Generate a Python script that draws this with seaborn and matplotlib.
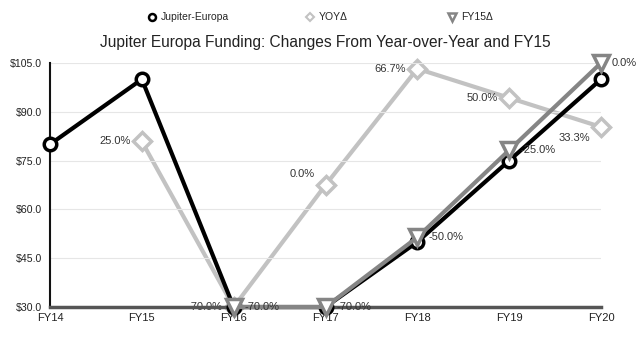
import matplotlib
matplotlib.use("Agg")
import matplotlib.pyplot as plt
from matplotlib.lines import Line2D
import seaborn as sns
import pandas as pd
import numpy as np

years = ["FY14", "FY15", "FY16", "FY17", "FY18", "FY19", "FY20"]
funding = [80, 100, 30, 30, 50, 75, 100]
yoy_pct = [np.nan, 25.0, -70.0, 0.0, 66.7, 50.0, 33.3]
fy15_pct = [np.nan, np.nan, -70.0, -70.0, -50.0, -25.0, 0.0]
y_ticks = [30, 45, 60, 75, 90, 105]
legend_labels = ["Jupiter-Europa", "YOY\u0394", "FY15\u0394"]

sns.set_theme(style="white")
plt.rcParams['font.family'] = ['Liberation Sans', 'DejaVu Sans']

df = pd.DataFrame({"x": np.arange(len(years)), "funding": funding,
                   "yoy": yoy_pct, "fy15": fy15_pct})

fig = plt.figure(figsize=(6.4, 3.4), dpi=100)
ax = fig.add_axes([50/640, 1-307/340, (601-50)/640, (307-63)/340])
ax2 = ax.twinx()
ax3 = ax.twinx()

c_black = "#000000"
c_light = "#c2c2c2"
c_mid = "#858585"

sns.lineplot(data=df, x="x", y="yoy", ax=ax2, color=c_light, lw=3,
             marker="D", markersize=9, markerfacecolor="white",
             markeredgecolor=c_light, markeredgewidth=2.5, clip_on=False, zorder=2)
sns.lineplot(data=df, x="x", y="funding", ax=ax, color=c_black, lw=3,
             marker="o", markersize=9, markerfacecolor="white",
             markeredgecolor=c_black, markeredgewidth=2.5, clip_on=False, zorder=3)
sns.lineplot(data=df, x="x", y="fy15", ax=ax3, color=c_mid, lw=3,
             marker="v", markersize=12, markerfacecolor="white",
             markeredgecolor=c_mid, markeredgewidth=2.5, clip_on=False, zorder=4)

ax.set_ylim(30, 105)
ax2.set_ylim(-70, 70)
ax3.set_ylim(-70, 0)
ax.set_xlim(0, len(years) - 1)
ax.set_zorder(3)
ax.patch.set_visible(False)
ax3.set_zorder(4)
ax2.set_zorder(2)

ax.set_yticks(y_ticks)
ax.set_yticklabels([f"${v:.1f}" for v in y_ticks], fontsize=7.6, color="#222222")
ax.set_xticks(np.arange(len(years)))
ax.set_xticklabels(years, fontsize=8, color="#222222")
ax.tick_params(axis="y", length=0, pad=6)
ax.tick_params(axis="x", length=0, pad=4)
ax.set_xlabel("")
ax.set_ylabel("")
ax.grid(axis="y", color="#e6e6e6", lw=0.8)
for a in (ax2, ax3):
    a.set_yticks([])
    a.set_ylabel("")
    for s in a.spines.values():
        s.set_visible(False)
for s in ("top", "right"):
    ax.spines[s].set_visible(False)
ax.spines["left"].set_color("#111111")
ax.spines["left"].set_linewidth(1.5)
ax.spines["bottom"].set_color("#555555")
ax.spines["bottom"].set_linewidth(2.5)

# YOY labels (left of points)
yoy_offsets = {1: (-8, 0), 2: (-8, 0), 3: (-8, 8), 4: (-8, 0), 5: (-8, 0), 6: (-8, -8)}
for i, v in enumerate(yoy_pct):
    if np.isnan(v):
        continue
    dx, dy = yoy_offsets[i]
    ax2.annotate(f"{v:.1f}%", (i, v), xytext=(dx, dy), textcoords="offset points",
                 ha="right", va="center", fontsize=8, color="#333333",
                 annotation_clip=False, zorder=10)
# FY15 labels (right of points)
for i, v in enumerate(fy15_pct):
    if np.isnan(v):
        continue
    ax3.annotate(f"{v:.1f}%", (i, v), xytext=(8, 0), textcoords="offset points",
                 ha="left", va="center", fontsize=8, color="#333333",
                 annotation_clip=False, zorder=10)

fig.text(0.5 + (325 - 320)/640, 1-43/340,
         "Jupiter Europa Funding: Changes From Year-over-Year and FY15",
         ha="center", va="center", fontsize=11.2, color="#222222")

handles = [
    Line2D([], [], ls="none", marker="o", markersize=5, markerfacecolor="white",
           markeredgecolor=c_black, markeredgewidth=1.8),
    Line2D([], [], ls="none", marker="D", markersize=4.5, markerfacecolor="white",
           markeredgecolor=c_light, markeredgewidth=1.5),
    Line2D([], [], ls="none", marker="v", markersize=6, markerfacecolor="white",
           markeredgecolor=c_mid, markeredgewidth=1.8),
]
marker_x = [152, 310, 452]
for h, lab, mx in zip(handles, legend_labels, marker_x):
    fig.legend([h], [lab], loc="center left",
               bbox_to_anchor=((mx - 5.2)/640, 1-17.5/340), frameon=False,
               fontsize=7.5, borderpad=0, borderaxespad=0,
               handletextpad=0.37, handlelength=1.0)

fig.savefig("out.png", dpi=100)
